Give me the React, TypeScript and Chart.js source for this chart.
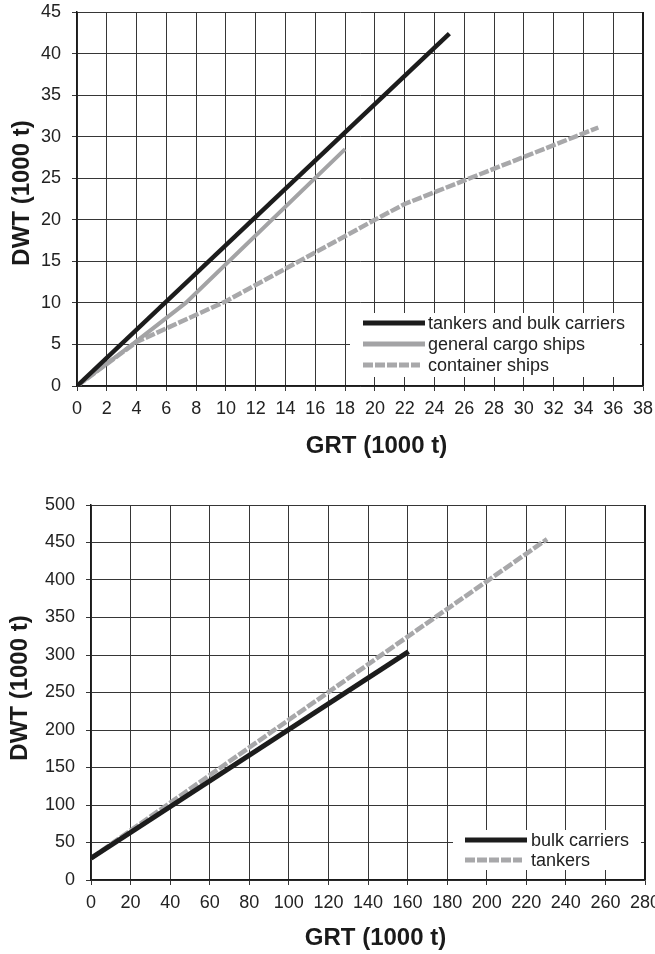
import React, { useEffect, useRef } from 'react';
import { Chart, registerables } from 'chart.js';

Chart.register(...registerables);

// ---------- DATA (top chart) ----------
const topGrtTicks = [0, 2, 4, 6, 8, 10, 12, 14, 16, 18, 20, 22, 24, 26, 28, 30, 32, 34, 36, 38];
const topDwtTicks = [0, 5, 10, 15, 20, 25, 30, 35, 40, 45];

const tankersBulkGRT = [0, 25];
const tankersBulkDWT = [0, 42.4];

const generalCargoGRT = [0, 3.5, 7.3, 18];
const generalCargoDWT = [0, 4.7, 10, 28.5];

const containerGRT = [0, 4, 10, 20, 22, 35];
const containerDWT = [0, 5.3, 10.2, 20, 21.9, 31.1];

// ---------- DATA (bottom chart) ----------
const bottomGrtTicks = [0, 20, 40, 60, 80, 100, 120, 140, 160, 180, 200, 220, 240, 260, 280];
const bottomDwtTicks = [0, 50, 100, 150, 200, 250, 300, 350, 400, 450, 500];

const bulkGRT = [0, 160.5];
const bulkDWT = [29, 304.5];

const tankersGRT = [0, 230.5];
const tankersDWT = [29, 454.5];

const topLabels = ['tankers and bulk carriers', 'general cargo ships', 'container ships'];
const bottomLabels = ['bulk carriers', 'tankers'];
const axisTitleX = 'GRT (1000 t)';
const axisTitleY = 'DWT (1000 t)';

// ---------- STYLE ----------
const FONT = '"Liberation Sans", Arial, Helvetica, sans-serif';
const BLACK = '#1c1c1c';
const GRAY = '#a3a3a5';
const GRAY_DASH = '#a8a8aa';
const GRID = '#363636';
const TEXT = '#222222';
const DASH = [10, 2];

const zip = (xs: number[], ys: number[]) => xs.map((x, i) => ({ x, y: ys[i] }));

type LegendItem = { label: string; color: string; width: number; dash?: number[]; len: number };
type AnnotCfg = {
  xTitle: { x: number; y: number };
  yTitle: { x: number; y: number };
  legend: {
    left: number; right: number; top: number; bottom: number;
    rows: number[];
    sampleX: number;
    textX: number;
    items: LegendItem[];
  };
};

function makePlugin(cfg: AnnotCfg) {
  return {
    id: 'annot',
    beforeDatasetsDraw(chart: any) {
      const { ctx, chartArea: a } = chart;
      const lg = cfg.legend;
      ctx.save();
      ctx.strokeStyle = '#1a1a1a';
      ctx.lineWidth = 2;
      ctx.beginPath();
      ctx.moveTo(a.right, a.top);
      ctx.lineTo(a.right, a.bottom);
      ctx.stroke();
      ctx.fillStyle = '#ffffff';
      ctx.fillRect(a.right - lg.left, a.bottom - lg.top, lg.left - lg.right, lg.top - lg.bottom);
      lg.items.forEach((it, i) => {
        const yy = a.bottom - lg.rows[i];
        const sx = a.right - lg.sampleX;
        ctx.beginPath();
        ctx.setLineDash(it.dash || []);
        ctx.lineCap = 'butt';
        ctx.strokeStyle = it.color;
        ctx.lineWidth = it.width;
        ctx.moveTo(sx, yy);
        ctx.lineTo(sx + it.len, yy);
        ctx.stroke();
        ctx.setLineDash([]);
        ctx.fillStyle = TEXT;
        ctx.font = `18px ${FONT}`;
        ctx.textAlign = 'left';
        ctx.textBaseline = 'middle';
        ctx.fillText(it.label, a.right - lg.textX, yy + 1);
      });
      ctx.restore();
    },
    afterDraw(chart: any) {
      const { ctx } = chart;
      ctx.save();
      ctx.fillStyle = '#1a1a1a';
      ctx.font = `bold 24px ${FONT}`;
      ctx.textAlign = 'center';
      ctx.textBaseline = 'middle';
      ctx.fillText(axisTitleX, cfg.xTitle.x, cfg.xTitle.y);
      ctx.translate(cfg.yTitle.x, cfg.yTitle.y);
      ctx.rotate(-Math.PI / 2);
      ctx.fillText(axisTitleY, 0, 0);
      ctx.restore();
    },
  };
}

function scaleOpts(ticks: number[], isX: boolean, fixed: number) {
  return {
    type: 'linear',
    min: ticks[0],
    max: ticks[ticks.length - 1],
    afterBuildTicks: (s: any) => {
      s.ticks = ticks.map((v) => ({ value: v }));
    },
    afterFit: (s: any) => {
      if (isX) s.height = fixed;
      else s.width = fixed;
      s.paddingTop = 0;
      s.paddingBottom = 0;
      s.paddingLeft = 0;
      s.paddingRight = 0;
    },
    grid: { color: GRID, lineWidth: 1, tickLength: 5, tickColor: GRID, drawTicks: true },
    border: { display: true, color: '#1a1a1a', width: 1.5 },
    ticks: {
      font: { family: FONT, size: 18 },
      color: TEXT,
      padding: isX ? 7 : 11,
      maxRotation: 0,
      autoSkip: false,
    },
  };
}

function lineDs(label: string, xs: number[], ys: number[], color: string, width: number, dash?: number[]) {
  return {
    label,
    data: zip(xs, ys),
    borderColor: color,
    backgroundColor: color,
    borderWidth: width,
    borderDash: dash || [],
    borderCapStyle: 'butt',
    pointRadius: 0,
    tension: 0,
    fill: false,
  };
}

export default function App() {
  const topRef = useRef<HTMLCanvasElement>(null);
  const botRef = useRef<HTMLCanvasElement>(null);

  useEffect(() => {
    const topChart = new Chart(topRef.current as HTMLCanvasElement, {
      type: 'line',
      data: {
        datasets: [
          lineDs(topLabels[0], tankersBulkGRT, tankersBulkDWT, BLACK, 4.5),
          lineDs(topLabels[1], generalCargoGRT, generalCargoDWT, GRAY, 4),
          lineDs(topLabels[2], containerGRT, containerDWT, GRAY_DASH, 4.5, DASH),
        ] as any,
      },
      options: {
        responsive: false,
        animation: false,
        devicePixelRatio: 1,
        layout: { padding: { top: 12, right: 37, bottom: 0, left: 0 } },
        plugins: { legend: { display: false }, tooltip: { enabled: false } },
        scales: {
          x: scaleOpts(topGrtTicks, true, 91) as any,
          y: scaleOpts(topDwtTicks, false, 77) as any,
        },
      },
      plugins: [
        makePlugin({
          xTitle: { x: 376.5, y: 446 },
          yTitle: { x: 22, y: 193 },
          legend: {
            left: 293, right: 3, top: 73, bottom: 9,
            rows: [63, 42, 21],
            sampleX: 280,
            textX: 215,
            items: [
              { label: topLabels[0], color: BLACK, width: 5, len: 62 },
              { label: topLabels[1], color: GRAY, width: 5, len: 62 },
              { label: topLabels[2], color: GRAY_DASH, width: 5, len: 57, dash: DASH },
            ],
          },
        }) as any,
      ],
    });

    const botChart = new Chart(botRef.current as HTMLCanvasElement, {
      type: 'line',
      data: {
        datasets: [
          lineDs(bottomLabels[0], bulkGRT, bulkDWT, BLACK, 5),
          lineDs(bottomLabels[1], tankersGRT, tankersDWT, GRAY_DASH, 4.6, DASH),
        ] as any,
      },
      options: {
        responsive: false,
        animation: false,
        devicePixelRatio: 1,
        layout: { padding: { top: 28, right: 35, bottom: 0, left: 0 } },
        plugins: { legend: { display: false }, tooltip: { enabled: false } },
        scales: {
          x: scaleOpts(bottomGrtTicks, true, 74) as any,
          y: scaleOpts(bottomDwtTicks, false, 91) as any,
        },
      },
      plugins: [
        makePlugin({
          xTitle: { x: 375.5, y: 461 },
          yTitle: { x: 20, y: 211 },
          legend: {
            left: 192, right: 4, top: 50, bottom: 10,
            rows: [40, 20],
            sampleX: 180,
            textX: 114,
            items: [
              { label: bottomLabels[0], color: BLACK, width: 5, len: 62 },
              { label: bottomLabels[1], color: GRAY_DASH, width: 5, len: 57, dash: DASH },
            ],
          },
        }) as any,
      ],
    });

    return () => {
      topChart.destroy();
      botChart.destroy();
    };
  }, []);

  return (
    <div
      style={{
        position: 'fixed',
        left: 0,
        top: 0,
        width: 655,
        height: 954,
        overflow: 'hidden',
        background: '#ffffff',
      }}
    >
      <canvas
        ref={topRef}
        width={680}
        height={477}
        style={{ position: 'absolute', left: 0, top: 0, width: 680, height: 477 }}
      />
      <canvas
        ref={botRef}
        width={680}
        height={477}
        style={{ position: 'absolute', left: 0, top: 477, width: 680, height: 477 }}
      />
    </div>
  );
}
